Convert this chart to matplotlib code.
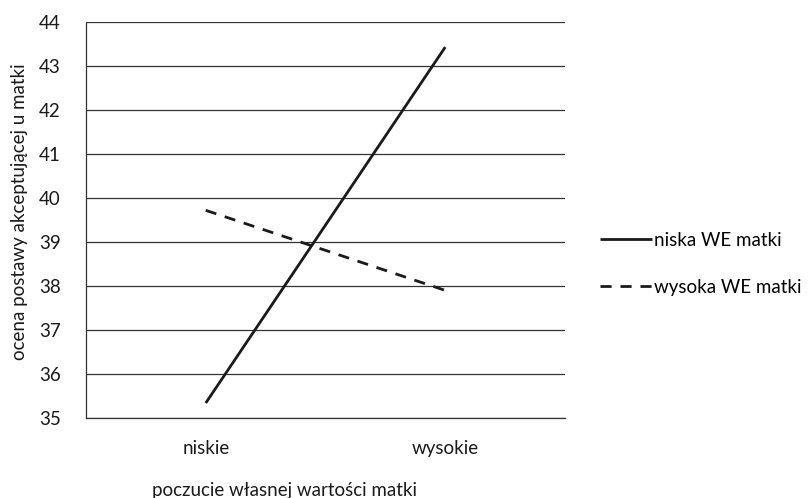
import matplotlib
matplotlib.use("Agg")
import matplotlib.pyplot as plt

plt.rcParams['font.family'] = ['Lato', 'DejaVu Sans']

categories = ["niskie", "wysokie"]
niska_we = [35.34, 43.43]
wysoka_we = [39.72, 37.90]
yticks = [35, 36, 37, 38, 39, 40, 41, 42, 43, 44]

FS = 13.5
fig = plt.figure(figsize=(8.1, 4.98), dpi=100)
ax = fig.add_axes([86/810, 1-418/498, (565-86)/810, (418-22)/498])

x = list(range(len(categories)))
l1, = ax.plot(x, niska_we, color='#1a1a1a', lw=2.0, solid_capstyle='butt')
l2, = ax.plot(x, wysoka_we, color='#1a1a1a', lw=2.0, dashes=(4, 3.2))

ax.set_xlim(-0.5, 1.5)
ax.set_ylim(35, 44)
ax.set_yticks(yticks)
ax.set_xticks(x)
ax.set_xticklabels(categories)
ax.yaxis.grid(True, color='#333333', lw=0.9)
ax.set_axisbelow(True)
for s in ['top', 'right']:
    ax.spines[s].set_visible(False)
ax.spines['left'].set_color('#333333')
ax.spines['bottom'].set_color('#333333')
ax.spines['left'].set_linewidth(0.9)
ax.spines['bottom'].set_linewidth(0.9)
ax.tick_params(axis='both', length=0, labelsize=FS, colors='#1a1a1a')
ax.tick_params(axis='y', pad=18)
ax.tick_params(axis='x', pad=16)
ax.set_xlabel("poczucie własnej wartości matki", fontsize=FS, color='#1a1a1a')
ax.set_ylabel("ocena postawy akceptującej u matki", fontsize=FS, color='#1a1a1a')
ax.xaxis.set_label_coords((285-86)/479, (418-490)/396)
ax.yaxis.set_label_coords((20-86)/479, (418-212)/396)
ax.xaxis.label.set_va('center')
ax.yaxis.label.set_va('center')

fig.legend([l1, l2], ["niska WE matki", "wysoka WE matki"], loc='center left',
           bbox_to_anchor=(592/810, 1-264/498), frameon=False, fontsize=FS,
           handlelength=2.8, handletextpad=0.1, labelspacing=1.6, borderaxespad=0)

fig.savefig("out.png", dpi=100)
